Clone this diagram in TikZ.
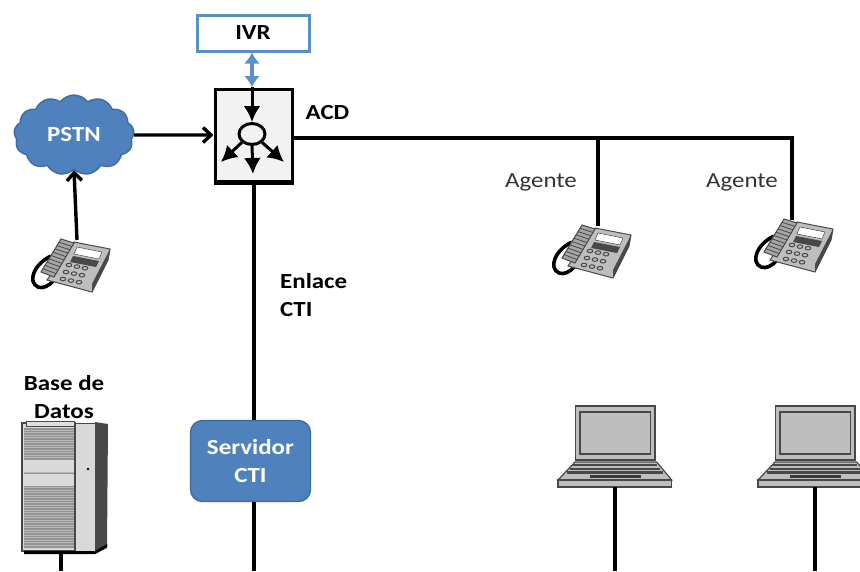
\documentclass[tikz,border=0pt]{standalone}
\usepackage{fontspec}
\setmainfont[FakeStretch=1.16]{Carlito}
\usepackage{xcolor}
\usetikzlibrary{shapes.geometric,shapes.symbols,arrows.meta,positioning,calc}

\definecolor{ivrblue}{HTML}{5B8FC7}
\definecolor{fillblue}{HTML}{4F81BD}
\definecolor{edgeblue}{HTML}{3F6C9F}
\definecolor{bodygray}{HTML}{BEBEBE}
\definecolor{linegray}{HTML}{484848}

\tikzset{
  phone/.pic={
    % cord
    \draw[line width=3.6pt, black] (21,18) .. controls (4,26) and (-3,44) .. (8,49) .. controls (13,51) and (19,48) .. (24,42);
    % body
    \fill[bodygray, draw=linegray, line width=1pt] (44,4) -- (80,11) -- (78,22) -- (62,54) -- (17,42) -- cycle;
    \fill[linegray] (62,54) -- (78,22) -- (80,11) -- (62,46) -- cycle;
    % handset
    \fill[gray!70, draw=linegray, line width=1pt] (31,1) -- (44,5) -- (24,39) -- (11,34) -- cycle;
    \foreach \s in {0.1,0.2,...,0.95}
      \draw[linegray, line width=0.8pt] ($(31,1)!\s!(11,34)$) -- ($(44,5)!\s!(24,39)$);
    % display and keys
    \fill[white, draw=linegray, line width=0.5pt] (47,9) -- (72,14) -- (69,21) -- (44,16) -- cycle;
    \fill[linegray] (43,18) -- (69,23) -- (66,29) -- (40,24) -- cycle;
    \foreach \r in {0,1,2}
      \foreach \c in {0,1,2}
        \draw[linegray, line width=1pt] ({39+\c*8-\r*3},{27+\r*7+\c*1.6}) ellipse (2.8pt and 1.8pt);
    \coordinate (-top) at (47,2);
  },
  laptop/.pic={
    \draw[fill=bodygray, draw=linegray, line width=1.2pt] (17.7,0) rectangle (97,54);
    \draw[linegray, line width=1.5pt] (22,6) rectangle (92.7,48);
    \fill[bodygray, draw=linegray, line width=1.2pt] (17,56) -- (98.7,56) -- (113.7,74) -- (0,74) -- cycle;
    \draw[fill=bodygray, draw=linegray, line width=1.2pt] (0,74) rectangle (113.7,81);
    \draw[linegray, line width=2.2pt] (15,59) -- (99,59);
    \draw[linegray, line width=2.2pt] (12,63) -- (102,63);
    \draw[linegray, line width=2.2pt] (9,66.5) -- (105,66.5);
    \fill[linegray!80!black] (32,68.5) rectangle (83,72);
    \coordinate (-bottom) at (57,81);
  },
  tower/.pic={
    \fill[linegray] (73,2) -- (86,4) -- (85,128) -- (73,134) -- cycle;
    \fill[gray!30, draw=linegray, line width=0.6pt] (53,3) rectangle (73,131);
    \fill[gray!30, draw=linegray, line width=1.2pt] (0,3) rectangle (53,131);
    \fill[gray!85] (2,8) rectangle (52,128);
    \foreach \y in {10,12.5,...,127}
      \draw[gray!55, line width=0.5pt] (2,\y) -- (52,\y);
    \fill[gray!30] (2,40) rectangle (52,52);
    \fill[gray!30] (2,54) rectangle (52,66);
    \fill[gray!25, draw=linegray, line width=0.5pt] (4,1) rectangle (52,6);
    \fill[black] (66,49) circle (1.4pt);
    \fill[black] (2,131) -- (73,131) -- (85,124) -- (85,127) -- (73,134) -- (2,134) -- cycle;
    \coordinate (-bottom) at (39,132);
  }
}

\begin{document}
\begin{tikzpicture}[
    x=1pt, y=-1pt,
    bluebox/.style={rectangle, rounded corners=12pt, draw=edgeblue, line width=1.4pt, fill=fillblue, text=white, font=\bfseries\fontsize{21.5}{28}\selectfont, align=center, minimum width=120pt, minimum height=81pt, inner sep=0pt},
    ivrbox/.style={rectangle, draw=ivrblue, line width=3pt, fill=white, font=\bfseries\fontsize{21.5}{28}\selectfont, minimum width=112pt, minimum height=36pt, inner sep=0pt},
    acdbox/.style={rectangle, draw=black, line width=3pt, fill=gray!10, minimum width=77pt, minimum height=92pt, inner sep=0pt},
    cloudbox/.style={cloud, cloud puffs=13, cloud puff arc=105, aspect=1.55, draw=edgeblue, line width=1.4pt, fill=fillblue, text=white, font=\bfseries\fontsize{21.5}{28}\selectfont, minimum width=120pt, minimum height=80pt, inner sep=0pt},
    label/.style={font=\bfseries\fontsize{21.5}{28}\selectfont, align=center, inner sep=0pt},
    agent/.style={font=\fontsize{21.5}{28}\selectfont, text=black!80, inner sep=0pt},
    wire/.style={line width=3.6pt, black},
    arrow/.style={-{Straight Barb[length=8pt, width=15pt]}, line width=3.4pt, black},
    hubarrow/.style={-{Latex[length=16pt, width=17pt]}, line width=3pt, black},
    dblarrow/.style={{Latex[length=11pt, width=16pt]}-{Latex[length=11pt, width=16pt]}, line width=4pt, ivrblue}
]
    \useasboundingbox (0,0) rectangle (860,571);

    \fill[white] (0,0) rectangle (860,571);

    \node[ivrbox] (ivr) at (253,33) {IVR};
    \node[acdbox] (acd) at (253.5,135) {};
    \node[cloudbox] (pstn) at (74,135) {PSTN};
    \node[bluebox] (cti) at (250.5,461) {Servidor\\CTI};
    \node[ellipse, draw, line width=3pt, minimum width=26pt, minimum height=21pt, inner sep=0pt] (hub) at (252,134) {};

    \pic (caller) at (30,238) {phone};
    \pic (phonea) at (551,224) {phone};
    \pic (phoneb) at (753,218) {phone};
    \pic (lapa) at (558,406) {laptop};
    \pic (lapb) at (758,406) {laptop};
    \pic (db) at (22,420) {tower};

    \node[label, right=12pt of acd.east, yshift=22pt] (acdlabel) {ACD};
    \node[label, align=left, anchor=west] (enlace) at (280,295) {Enlace\\CTI};
    \node[label] (dblabel) at (64,397) {Base de\\Datos};
    \node[agent] (agenta) at (541,182) {Agente};
    \node[agent] (agentb) at (742,182) {Agente};

    \coordinate (bus1) at (598,138);
    \coordinate (bus2) at (792,138);
    \coordinate (ctiend) at (254,571);
    \coordinate (dbend) at (61,571);
    \coordinate (lapaend) at (615,571);
    \coordinate (lapbend) at (815,571);
    \coordinate (hubin) at (252,87);
    \coordinate (huba) at (221,162);
    \coordinate (hubb) at (253,174);
    \coordinate (hubc) at (284,162);

    \draw[line width=4pt, black] (acd.south west) -- (acd.south east);

    \draw[dblarrow] (ivr.south -| hubin) -- (hubin);
    \draw[hubarrow] (hubin) -- (hub.north);
    \draw[hubarrow] (hub.south west) -- (huba);
    \draw[hubarrow] (hub.south) -- (hubb);
    \draw[hubarrow] (hub.south east) -- (hubc);

    \draw[arrow] (pstn.east) -- (acd.west);
    \draw[arrow] (caller-top) -- (pstn.south);
    \draw[wire] (acd.east |- bus1) -- (bus1) -- (bus2) -- (bus2 |- phoneb-top);
    \draw[wire] (bus1) -- (bus1 |- phonea-top);
    \draw[wire] (acd.south -| ctiend) -- (cti.north -| ctiend);
    \draw[wire] (cti.south -| ctiend) -- (ctiend);
    \draw[wire] (db-bottom) -- (dbend);
    \draw[wire] (lapa-bottom) -- (lapaend);
    \draw[wire] (lapb-bottom) -- (lapbend);
\end{tikzpicture}
\end{document}
